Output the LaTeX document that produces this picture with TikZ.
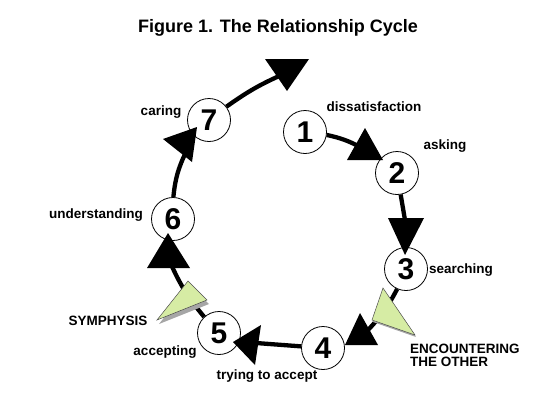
\documentclass[tikz,border=0pt]{standalone}
\usepackage{fontspec}
\setmainfont{Liberation Sans}
\usepackage{xcolor}
\usetikzlibrary{positioning, calc}
\definecolor{paleGreen}{RGB}{214,236,164}

\begin{document}
\begin{tikzpicture}[
  x=1pt, y=-1pt,
  stage/.style={circle, draw, line width=0.8pt, fill=white, minimum size=43pt, inner sep=0pt,
    font=\bfseries\fontsize{30}{30}\selectfont},
  lbl/.style={font=\bfseries\fontsize{13.5}{14}\selectfont, inner sep=0pt},
  flow/.style={line width=4.3pt},
  head/.style={fill=black},
  wedge/.style={fill=paleGreen, draw=black!70, line width=0.5pt},
  shade/.style={fill=gray!70},
]
\useasboundingbox (0,0) rectangle (548,410);

%% Title
\node[font=\bfseries\fontsize{18}{20}\selectfont] (title) at (278,28) {Figure 1. The Relationship Cycle};

%% Stages of the cycle
\node[stage] (s1) at (305,132) {1};
\node[stage] (s2) at (397,173) {2};
\node[stage] (s3) at (406,269) {3};
\node[stage] (s4) at (323,348) {4};
\node[stage] (s5) at (219,333) {5};
\node[stage] (s6) at (173,219) {6};
\node[stage] (s7) at (209,120) {7};

%% Where the connectors end
\coordinate (e7) at (286,73);
\coordinate (e1) at (362,148);
\coordinate (e2) at (406,226);
\coordinate (e3) at (368,330);
\coordinate (e4) at (256,343);
\coordinate (e5) at (170,262);
\coordinate (e6) at (186,152);

%% Connectors
\draw[flow] (s7) to[bend left=6] (e7);
\draw[flow] (s1) to[bend left=8] (e1);
\draw[flow] (s2) -- (e2);
\draw[flow] (s3) to[bend left=8] (e3);
\draw[flow] (s4) -- (e4);
\draw[flow] (s5) to[bend left=8] (e5);
\draw[flow] (s6) to[bend left=10] (e6);

%% Arrow heads
\fill[head] (265,59) -- (309,59) -- (287,91) -- cycle;
\fill[head] (365,128) -- (347,160) -- (383,160) -- cycle;
\fill[head] (388,218) -- (424,218) -- (405,255) -- cycle;
\fill[head] (360,313) -- (345,345) -- (378,345) -- cycle;
\fill[head] (233,342) -- (261,325) -- (255,365) -- cycle;
\fill[head] (168,233) -- (147,268) -- (190,268) -- cycle;
\fill[head] (163,139) -- (197,127) -- (192,162) -- cycle;

%% Green markers
\fill[shade] (384,290) -- (373,322) -- (416,337) -- cycle;
\draw[wedge] (383,288) -- (372,320) -- (415,335) -- cycle;
\fill[shade] (190,285) -- (159,324) -- (209,304) -- cycle;
\draw[wedge] (188,281) -- (157,320) -- (207,300) -- cycle;

%% Labels
\node[lbl] (l1) at (374,107) {dissatisfaction};
\node[lbl] (l2) at (445,146) {asking};
\node[lbl] (l3) at (461,270) {searching};
\node[lbl, align=left, anchor=north west, font=\bfseries\fontsize{13.5}{12.5}\selectfont] (lenc) at (410,344) {ENCOUNTERING\\THE OTHER};
\node[lbl] (l4) at (267,376) {trying to accept};
\node[lbl] (l5) at (165,352) {accepting};
\node[lbl] (lsym) at (108,321) {SYMPHYSIS};
\node[lbl] (l6) at (96,215) {understanding};
\node[lbl] (l7) at (161,112) {caring};

\end{tikzpicture}
\end{document}
